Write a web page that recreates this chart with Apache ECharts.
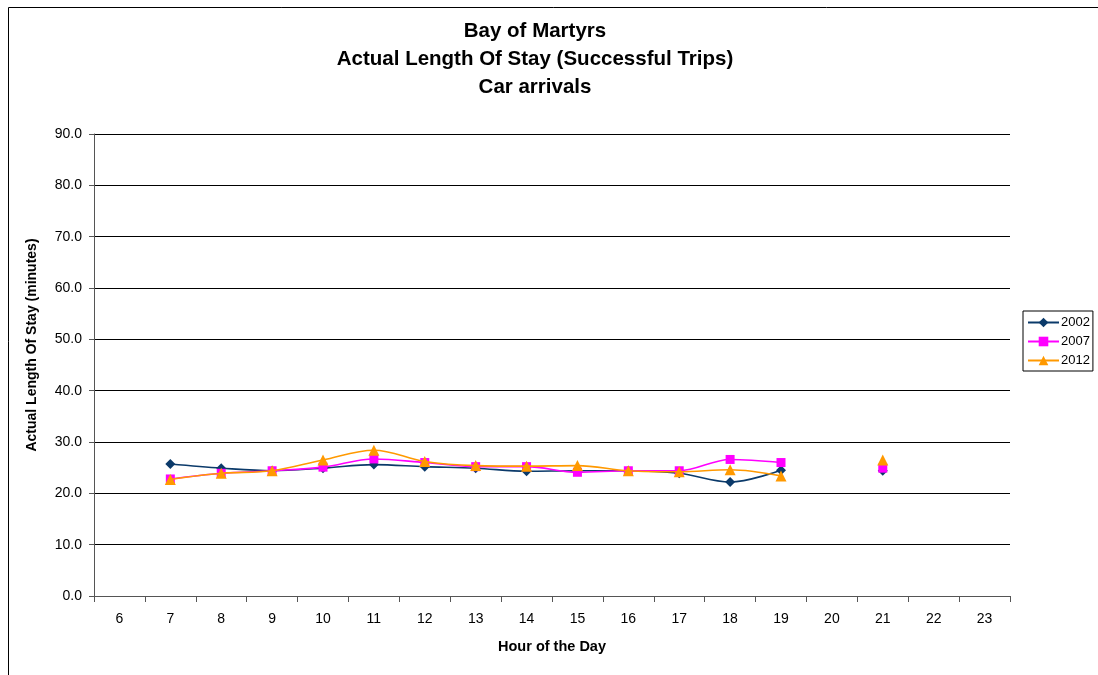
<!DOCTYPE html>
<html>
<head>
<meta charset="utf-8">
<style>
  html, body { margin: 0; padding: 0; background: #fff; }
  #chart { width: 1098px; height: 675px; }
</style>
<script src="https://cdn.jsdelivr.net/npm/echarts@6/dist/echarts.min.js"></script>
</head>
<body>
<div id="chart"></div>
<script>
// Hour-of-day categories
const hours = ['6','7','8','9','10','11','12','13','14','15','16','17','18','19','20','21','22','23'];

// Average length of stay (minutes) per arrival hour, car arrivals
const stay2002 = [null, 25.7, 24.9, 24.4, 24.9, 25.6, 25.2, 24.9, 24.3, 24.4, 24.4, 23.9, 22.2, 24.5, null, 24.4, null, null];
const stay2007 = [null, 22.8, 23.9, 24.4, 25.1, 26.7, 26.0, 25.2, 25.2, 24.1, 24.4, 24.4, 26.6, 26.0, null, 24.9, null, null];
const stay2012 = [null, 22.7, 23.9, 24.4, 26.5, 28.4, 26.2, 25.4, 25.3, 25.4, 24.4, 24.2, 24.6, 23.4, null, 26.5, null, null];

const seriesNames = ['2002', '2007', '2012'];
const seriesColors = ['#0B3A6A', '#FF00FF', '#FF9900'];
const seriesSymbols = ['diamond', 'rect', 'triangle'];
const seriesSizes = [10, 9, 11];
const seriesData = [stay2002, stay2007, stay2012];

const chart = echarts.init(document.getElementById('chart'));

const font = 'Liberation Sans, Arial, sans-serif';

chart.setOption({
  backgroundColor: '#fff',
  animation: false,
  textStyle: { fontFamily: font },
  title: {
    text: 'Bay of Martyrs\nActual Length Of Stay (Successful Trips)\nCar arrivals',
    left: 535,
    textAlign: 'center',
    top: 17,
    padding: 0,
    textStyle: { fontSize: 20.5, fontWeight: 'bold', color: '#000', lineHeight: 28, fontFamily: font }
  },
  legend: {
    orient: 'vertical',
    left: 1023,
    top: 311,
    padding: [5, 3, 4, 4],
    itemGap: 6,
    itemWidth: 31,
    itemHeight: 12,
    borderColor: '#000',
    borderWidth: 1,
    borderRadius: 0,
    textStyle: { fontSize: 13, color: '#000', fontFamily: font, padding: [0, 0, 0, -3] },
    data: seriesNames
  },
  grid: { left: 94, right: 88, top: 134, bottom: 79 },
  xAxis: {
    type: 'category',
    data: hours,
    boundaryGap: true,
    name: 'Hour of the Day',
    nameLocation: 'middle',
    nameGap: 43,
    nameTextStyle: { fontSize: 14.5, fontWeight: 'bold', color: '#000' },
    axisLine: { lineStyle: { color: '#555', width: 1 } },
    axisTick: { show: true, length: 6, alignWithLabel: false, lineStyle: { color: '#555' } },
    axisLabel: { fontSize: 14, color: '#000', margin: 16, interval: 0 },
    splitLine: { show: false }
  },
  yAxis: {
    type: 'value',
    min: 0,
    max: 90,
    interval: 10,
    name: 'Actual Length Of Stay (minutes)',
    nameLocation: 'middle',
    nameGap: 55,
    nameRotate: 90,
    nameTextStyle: { fontSize: 14, fontWeight: 'bold', color: '#000', padding: [0, 0, 0, 40] },
    axisLine: { show: true, lineStyle: { color: '#555', width: 1 } },
    axisTick: { show: true, length: 5, lineStyle: { color: '#555' } },
    axisLabel: { fontSize: 14, color: '#000', margin: 12, formatter: v => v.toFixed(1) },
    splitLine: { show: true, lineStyle: { color: '#000', width: 1 } }
  },
  graphic: [{
    type: 'rect',
    shape: { x: 8.5, y: 7.5, width: 1200, height: 800 },
    style: { fill: 'none', stroke: '#000', lineWidth: 1 },
    silent: true,
    z: -1
  }],
  series: seriesNames.map((name, i) => ({
    name: name,
    type: 'line',
    data: seriesData[i],
    smooth: 0.35,
    connectNulls: false,
    symbol: seriesSymbols[i],
    symbolSize: seriesSizes[i],
    showAllSymbol: true,
    color: seriesColors[i],
    lineStyle: { color: seriesColors[i], width: 1.6 },
    itemStyle: { color: seriesColors[i] },
    z: 2 + i
  }))
});
</script>
</body>
</html>
